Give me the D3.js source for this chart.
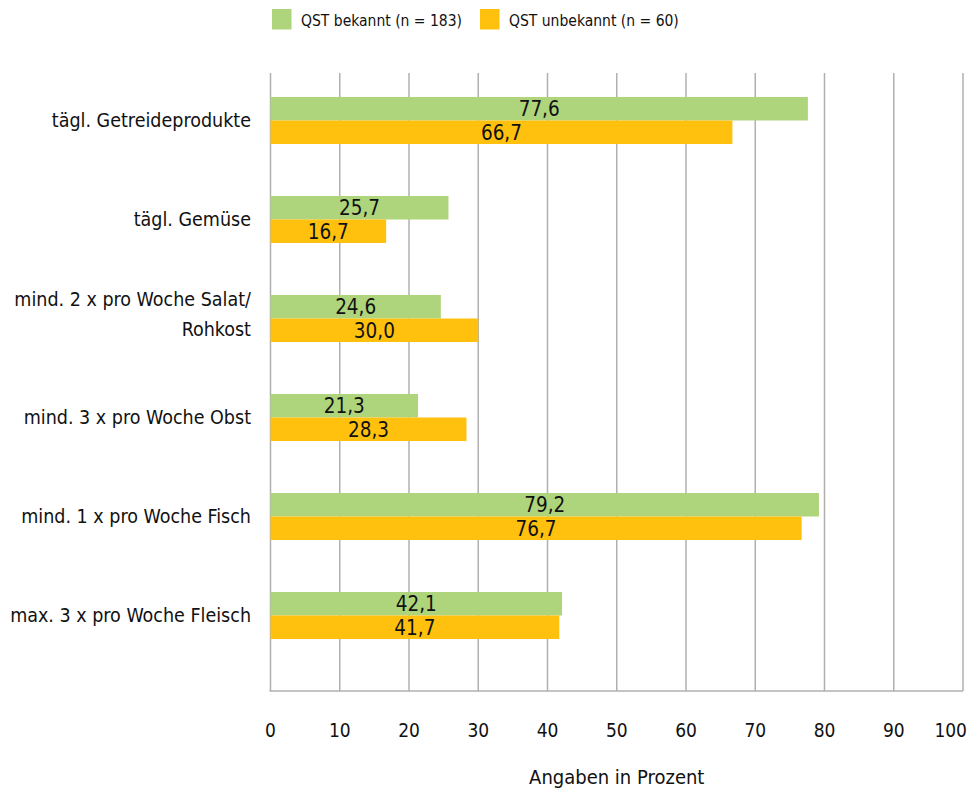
<!DOCTYPE html>
<html>
<head>
<meta charset="utf-8">
<script src="https://cdn.jsdelivr.net/npm/d3@7"></script>
<style>
  html, body { margin: 0; padding: 0; background: #fff; }
  svg { display: block; font-family: "DejaVu Sans Condensed", "DejaVu Sans", sans-serif; }
</style>
</head>
<body>
<svg id="chart" width="978" height="788"></svg>
<script>
const categories = [
  "tägl. Getreideprodukte",
  "tägl. Gemüse",
  "mind. 2 x pro Woche Salat/Rohkost",
  "mind. 3 x pro Woche Obst",
  "mind. 1 x pro Woche Fisch",
  "max. 3 x pro Woche Fleisch"
];
const seriesNames = ["QST bekannt (n = 183)", "QST unbekannt (n = 60)"];
const bekannt   = [77.6, 25.7, 24.6, 21.3, 79.2, 42.1];
const unbekannt = [66.7, 16.7, 30.0, 28.3, 76.7, 41.7];
const xTicks = [0, 10, 20, 30, 40, 50, 60, 70, 80, 90, 100];
const axisTitle = "Angaben in Prozent";
const colors = ["#aed57b", "#ffc10e"];

const svg = d3.select("#chart");
const x = d3.scaleLinear().domain([0, 100]).range([270.5, 963]);
const y = d3.scaleBand().domain(categories).range([71, 665])
  .paddingInner(0.525).paddingOuter(0.2625);
const ySub = d3.scaleBand().domain([0, 1]).range([0, y.bandwidth()]);
const gridTop = 73, gridBottom = 691;
const gridColor = "#b0b0b0";

// gridlines
svg.append("g").selectAll("line").data(xTicks).join("line")
  .attr("x1", d => x(d)).attr("x2", d => x(d))
  .attr("y1", gridTop).attr("y2", gridBottom)
  .attr("stroke", gridColor).attr("stroke-width", 1.5);

// bottom axis line
svg.append("line")
  .attr("x1", x(0) - 1).attr("x2", x(100))
  .attr("y1", gridBottom).attr("y2", gridBottom)
  .attr("stroke", gridColor).attr("stroke-width", 1.5);

// tick labels
svg.append("g").selectAll("text").data(xTicks).join("text")
  .attr("x", (d, i) => i === xTicks.length - 1 ? x(d) + 4 : x(d))
  .attr("y", 737)
  .attr("text-anchor", (d, i) => i === xTicks.length - 1 ? "end" : "middle")
  .attr("font-size", 19).attr("fill", "#111")
  .text(d => d);

// axis title
svg.append("text")
  .attr("x", (x(0) + x(100)) / 2).attr("y", 784)
  .attr("text-anchor", "middle").attr("font-size", 20).attr("fill", "#111")
  .text(axisTitle);

// bars
const rows = categories.map((c, i) => ({ c, vals: [bekannt[i], unbekannt[i]] }));
const fmt = v => d3.format(".1f")(v).replace(".", ",");
const groups = svg.append("g").selectAll("g").data(rows).join("g")
  .attr("transform", d => `translate(0,${y(d.c)})`);
groups.selectAll("rect").data(d => d.vals).join("rect")
  .attr("x", x(0)).attr("y", (d, i) => ySub(i))
  .attr("width", d => x(d) - x(0)).attr("height", ySub.bandwidth())
  .attr("fill", (d, i) => colors[i]);
groups.selectAll("text.val").data(d => d.vals).join("text")
  .attr("class", "val")
  .attr("x", d => (x(0) + x(d)) / 2)
  .attr("y", (d, i) => ySub(i) + ySub.bandwidth() / 2 + 7.5)
  .attr("text-anchor", "middle").attr("font-size", 20.5).attr("fill", "#111")
  .text(d => fmt(d));

// category labels (wrap after "/")
svg.append("g").selectAll("text").data(categories).join("text")
  .attr("text-anchor", "end").attr("font-size", 19.5).attr("fill", "#111")
  .each(function(d) {
    const parts = d.includes("/") ? [d.slice(0, d.indexOf("/") + 1), d.slice(d.indexOf("/") + 1)] : [d];
    const cy = y(d) + y.bandwidth() / 2;
    const lh = 29.4;
    const t = d3.select(this);
    parts.forEach((p, k) => {
      t.append("tspan").attr("x", 251)
        .attr("y", cy + 6.5 + (k - (parts.length - 1) / 2) * lh - (parts.length > 1 ? 4 : 0))
        .text(p);
    });
  });

// legend
const legend = svg.append("g");
const legX = [272, 480];
seriesNames.forEach((n, i) => {
  legend.append("rect").attr("x", legX[i]).attr("y", 9).attr("width", 19.5).attr("height", 20.5)
    .attr("fill", colors[i]);
  legend.append("text").attr("x", legX[i] + 29).attr("y", 25.5)
    .attr("font-size", 15.5).attr("fill", "#111").text(n);
});
</script>
</body>
</html>
